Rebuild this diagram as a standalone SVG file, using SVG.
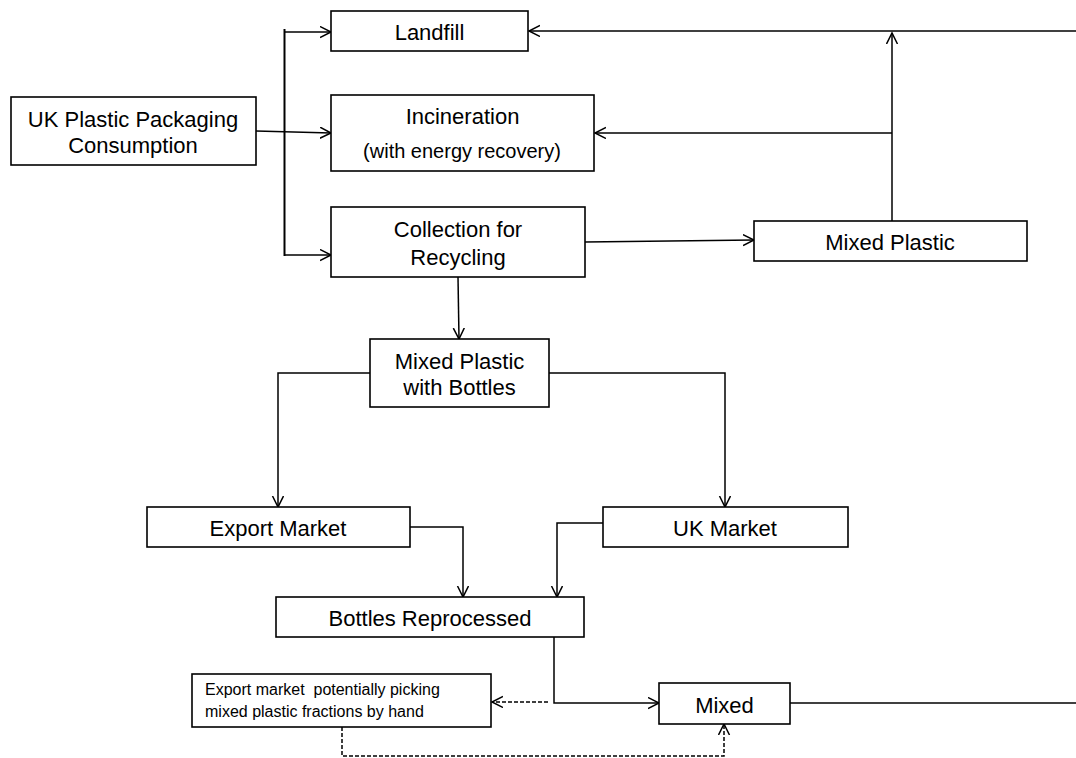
<svg xmlns="http://www.w3.org/2000/svg" width="1076" height="758" viewBox="0 0 1076 758">
<style>
.box{fill:#fff;stroke:#000;stroke-width:1.6}
.t{font-family:"Liberation Sans",Arial,sans-serif;font-size:22px;fill:#000;text-anchor:middle}
.s{font-size:20px}
.sm{font-family:"Liberation Sans",Arial,sans-serif;font-size:16px;fill:#000}
.c{fill:none;stroke:#000;stroke-width:1.5}
.d{stroke-dasharray:4 2}
</style>
<defs>
<marker id="ah" markerUnits="userSpaceOnUse" markerWidth="14" markerHeight="14" refX="11" refY="6" orient="auto">
<path d="M0,0.5 L11,6 L0,11.5" fill="none" stroke="#000" stroke-width="1.5"/>
</marker>
</defs>
<g id="connectors">
<line class="c" x1="284.5" y1="29" x2="284.5" y2="256" style="stroke-width:2"/>
<line class="c" x1="284" y1="32" x2="331" y2="32" marker-end="url(#ah)"/>
<line class="c" x1="284" y1="255" x2="331" y2="255" marker-end="url(#ah)"/>
<line class="c" x1="256" y1="131" x2="331" y2="133" marker-end="url(#ah)"/>
<line class="c" x1="1076" y1="31" x2="529" y2="31" marker-end="url(#ah)"/>
<line class="c" x1="892" y1="221" x2="892" y2="33" marker-end="url(#ah)"/>
<line class="c" x1="892" y1="133" x2="595" y2="133" marker-end="url(#ah)"/>
<line class="c" x1="585" y1="242" x2="754" y2="240" marker-end="url(#ah)"/>
<line class="c" x1="458" y1="277" x2="459" y2="339" marker-end="url(#ah)"/>
<polyline class="c" points="370,373 278,373 278,507" marker-end="url(#ah)"/>
<polyline class="c" points="549,373 725,373 725,507" marker-end="url(#ah)"/>
<polyline class="c" points="410,527 463,527 463,597" marker-end="url(#ah)"/>
<polyline class="c" points="603,523 557,523 557,597" marker-end="url(#ah)"/>
<polyline class="c" points="554,637 554,703 659,703" marker-end="url(#ah)"/>
<line class="c" x1="790" y1="703" x2="1076" y2="703"/>
<line class="c d" x1="548" y1="702" x2="492" y2="702" marker-end="url(#ah)"/>
<polyline class="c d" points="342,727 342,756 724,756 724,724" marker-end="url(#ah)"/>
</g>
<g id="uk-consumption">
<rect class="box" x="11" y="97" width="245" height="68"/>
<text class="t" x="133" y="127">UK Plastic Packaging</text>
<text class="t" x="133" y="153">Consumption</text>
</g>
<g id="landfill">
<rect class="box" x="331" y="11" width="197" height="40"/>
<text class="t" x="429.5" y="40">Landfill</text>
</g>
<g id="incineration">
<rect class="box" x="331" y="95" width="263" height="76"/>
<text class="t" x="462.5" y="124">Incineration</text>
<text class="t s" x="462" y="158">(with energy recovery)</text>
</g>
<g id="collection">
<rect class="box" x="331" y="207" width="254" height="70"/>
<text class="t" x="458" y="237">Collection for</text>
<text class="t" x="458" y="265">Recycling</text>
</g>
<g id="mixed-plastic">
<rect class="box" x="754" y="221" width="273" height="40"/>
<text class="t" x="890" y="250">Mixed Plastic</text>
</g>
<g id="mixed-with-bottles">
<rect class="box" x="370" y="339" width="179" height="68"/>
<text class="t" x="459.5" y="369">Mixed Plastic</text>
<text class="t" x="459.5" y="395">with Bottles</text>
</g>
<g id="export-market">
<rect class="box" x="147" y="507" width="263" height="40"/>
<text class="t" x="278" y="536">Export Market</text>
</g>
<g id="uk-market">
<rect class="box" x="603" y="507" width="245" height="40"/>
<text class="t" x="725" y="536">UK Market</text>
</g>
<g id="bottles-reprocessed">
<rect class="box" x="276" y="597" width="308" height="40"/>
<text class="t" x="430" y="626">Bottles Reprocessed</text>
</g>
<g id="export-picking">
<rect class="box" x="192" y="674" width="299" height="53"/>
<text class="sm" x="205" y="695" xml:space="preserve">Export market  potentially picking</text>
<text class="sm" x="205" y="717">mixed plastic fractions by hand</text>
</g>
<g id="mixed">
<rect class="box" x="659" y="683" width="131" height="41"/>
<text class="t" x="724.5" y="713">Mixed</text>
</g>
</svg>
